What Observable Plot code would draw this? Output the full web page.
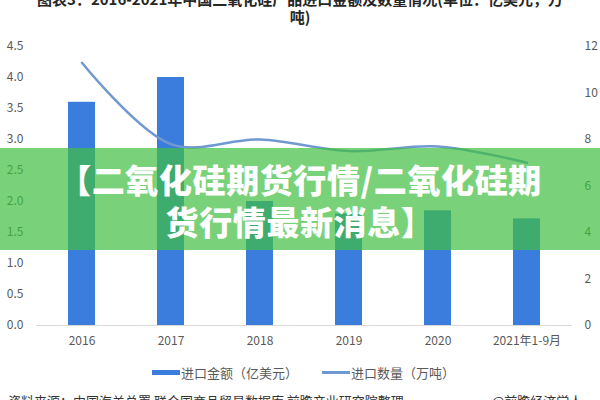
<!DOCTYPE html>
<html>
<head>
<meta charset="utf-8">
<script src="https://cdn.jsdelivr.net/npm/d3@7"></script>
<script src="https://cdn.jsdelivr.net/npm/@observablehq/plot@0.6"></script>
<style>
  html, body { margin: 0; padding: 0; background: #fff; }
  body { width: 600px; height: 400px; overflow: hidden; position: relative; font-family: 'Noto Sans CJK SC', sans-serif; }
  #chart { position: absolute; left: 0; top: 0; }
  .title { position: absolute; left: 0; width: 600px; top: -10px; text-align: center; font-weight: bold; font-size: 15px; line-height: 18px; color: #262626; white-space: nowrap; }
  .legend { position: absolute; top: 362px; left: 0; width: 600px; font-size: 13px; color: #595959; }
  .legend .item { position: absolute; top: 0; display: flex; align-items: center; height: 20px; }
  .legend .sw-bar { width: 28px; height: 5px; background: #3b7ddd; margin-right: 1px; }
  .legend .sw-line { width: 28px; height: 3px; background: #7199d1; margin-right: 1px; }
  .source { position: absolute; top: 391px; left: 8px; font-size: 13px; color: #333; white-space: nowrap; }
  .source2 { position: absolute; top: 391px; left: 492px; font-size: 13px; color: #333; white-space: nowrap; }
  .banner { position: absolute; left: 0; top: 148px; width: 600px; height: 102px; background: rgba(64,191,64,0.7); }
  .banner .txt { position: absolute; left: 0; width: 600px; top: 10px; text-align: center; color: #fff; font-weight: 900; font-size: 33px; letter-spacing: 0.6px; line-height: 42px; white-space: nowrap; }
</style>
</head>
<body>
<div id="chart"></div>
<div class="title">图表3：2016-2021年中国二氧化硅产品进口金额及数量情况(单位：亿美元，万<br>吨)</div>
<div class="legend">
  <div class="item" style="left:152px"><span class="sw-bar"></span><span>进口金额（亿美元）</span></div>
  <div class="item" style="left:322px"><span class="sw-line"></span><span>进口数量（万吨）</span></div>
</div>
<div class="source">资料来源：中国海关总署 联合国商品贸易数据库 前瞻产业研究院整理</div>
<div class="source2">@前瞻经济学人</div>
<div class="banner"><div class="txt">【二氧化硅期货行情/二氧化硅期<br>货行情最新消息】</div></div>
<script>
const categories = ["2016", "2017", "2018", "2019", "2020", "2021年1-9月"];
const amount = [3.6, 4.0, 2.0, 1.8, 1.85, 1.72];      // 进口金额（亿美元）
const quantity = [11.3, 7.8, 8.0, 7.5, 7.7, 7.0];     // 进口数量（万吨）
const leftTicks = [0, 0.5, 1, 1.5, 2, 2.5, 3, 3.5, 4, 4.5];
const rightTicks = [0, 2, 4, 6, 8, 10, 12];

const k = 4.5 / 12;
const rows = categories.map((c, i) => ({cat: c, amount: amount[i], qty: quantity[i]}));

const chart = Plot.plot({
  width: 600,
  height: 360,
  marginTop: 46,
  marginBottom: 35,
  marginLeft: 36,
  marginRight: 28,
  style: {fontFamily: "'Noto Sans CJK SC', sans-serif", fontSize: "12px", color: "#595959", background: "transparent"},
  x: {domain: categories, paddingInner: 0.7, paddingOuter: 0.35, label: null},
  y: {domain: [0, 4.5], label: null},
  marks: [
    Plot.axisY({ticks: leftTicks, anchor: "left", tickSize: 0, tickPadding: 13, tickFormat: d3.format(".1f"), label: null, fontSize: 12}),
    Plot.axisY({ticks: rightTicks.map(v => v * k), anchor: "right", tickSize: 0, tickPadding: 12, tickFormat: d => String(Math.round(d / k)), label: null, fontSize: 12, textAnchor: "start"}),
    Plot.axisX({tickSize: 0, tickPadding: 11, label: null, fontSize: 12}),
    Plot.ruleY([0], {stroke: "#d9d9d9"}),
    Plot.barY(rows, {x: "cat", y: "amount", fill: "#3b7ddd"}),
    Plot.line(rows, {x: "cat", y: d => d.qty * k, stroke: "#7199d1", strokeWidth: 2.5, curve: "catmull-rom"})
  ]
});
document.getElementById("chart").appendChild(chart);
</script>
</body>
</html>
